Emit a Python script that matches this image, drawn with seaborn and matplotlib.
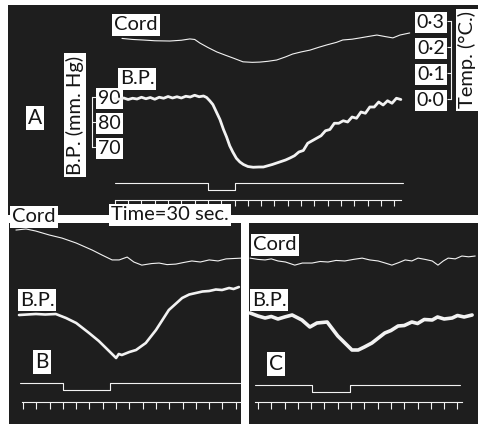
import numpy as np
import matplotlib
matplotlib.use('Agg')
import matplotlib.pyplot as plt
import seaborn as sns

sns.set_style('white')
plt.rcParams['font.family'] = ['Lato', 'DejaVu Sans']

# time in seconds, B.P. in mm Hg, cord temperature in deg C

# record A
a_bp_t = [0, 10, 20, 30, 40, 50, 60, 70, 80, 90, 100, 110, 120, 130, 140, 150, 160, 170, 180, 190, 200,
          207, 214, 221, 229, 237, 245, 252, 259, 266, 274, 282, 290, 300, 312, 325, 335,
          345, 355, 365, 375, 385, 395, 405, 415, 425, 435, 445, 455, 465, 475, 485, 495, 505, 515,
          525, 535, 545, 555, 565, 575, 585, 595, 605, 615, 625, 635, 645]
a_bp = [89.4, 89.1, 89.6, 89.0, 89.5, 89.2, 89.9, 89.3, 89.8, 89.1, 89.9, 89.5, 90.2, 89.6, 90.1, 89.6, 90.3, 90.0, 90.7, 90.1, 90.4,
        89.8, 88.5, 87.0, 84.0, 81.0, 77.0, 74.0, 70.5, 68.0, 65.5, 64.0, 63.0, 62.2, 61.9, 62.0, 62.0,
        62.5, 63.0, 63.6, 64.2, 64.8, 65.6, 66.5, 68.0, 68.6, 71.5, 72.5, 73.5, 74.5, 76.5, 77.0, 79.5, 79.5, 80.5,
        80.0, 82.0, 81.5, 84.0, 83.5, 86.0, 86.0, 88.0, 86.8, 88.5, 87.5, 89.5, 89.0]
a_cord_t = [16, 40, 63, 90, 124, 150, 169, 180, 192, 210, 230, 250, 266, 289, 310, 327, 345,
            365, 385, 401, 420, 440, 460, 478, 500, 514, 535, 553, 570, 591, 610, 627, 643, 665]
a_cord = [0.233, 0.229, 0.227, 0.224, 0.223, 0.226, 0.231, 0.229, 0.215, 0.198, 0.181, 0.168, 0.158, 0.143, 0.141, 0.142, 0.145,
          0.150, 0.162, 0.173, 0.181, 0.188, 0.199, 0.208, 0.218, 0.227, 0.230, 0.235, 0.240, 0.246, 0.240, 0.235, 0.246, 0.254]
a_stim = (210, 271)

# record B
b_bp_t = [-9, 10, 29, 50, 74, 97, 120, 149, 171, 194, 210, 216, 223, 240, 255, 277, 300, 329, 359, 375,
          390, 405, 420, 435, 449, 465, 475, 487]
b_bp = [90.4, 90.6, 90.8, 90.6, 90.8, 89.2, 87.2, 83.2, 80.0, 76.0, 73.2, 74.8, 74.4, 75.6, 76.4, 79.2, 84.4, 92.4, 97.2, 98.6,
        99.2, 99.8, 100.0, 100.6, 100.4, 101.2, 100.8, 101.6]
b_cord_t = [-16, 7, 29, 59, 88, 120, 156, 178, 201, 217, 235, 250, 268, 290, 307, 325, 345, 362, 381, 400,
            420, 440, 458, 494]
b_cord = [0.123, 0.127, 0.119, 0.104, 0.092, 0.073, 0.046, 0.027, 0.008, 0.008, 0.019, 0.000, -0.012, -0.006, -0.004,
          -0.010, -0.008, -0.002, 0.004, 0.000, 0.008, 0.004, 0.012, 0.015]
b_stim = (90, 196)

# record C
c_bp_t = [-18, 0, 16, 30, 45, 60, 77, 99, 117, 133, 156, 180, 212, 226, 240, 257, 270, 286, 300, 316,
          330, 347, 360, 375, 393, 405, 420, 438, 450, 465, 483]
c_bp = [91.2, 90.0, 89.2, 89.8, 88.8, 89.6, 90.4, 88.4, 85.6, 87.2, 87.6, 82.0, 76.4, 76.4, 77.6, 79.2, 81.0, 83.2, 84.2, 86.0,
        86.2, 87.6, 87.0, 88.6, 88.4, 89.6, 88.8, 89.2, 90.2, 89.6, 90.4]
c_cord_t = [-18, 0, 16, 30, 45, 62, 83, 100, 122, 140, 158, 176, 196, 215, 235, 252, 271, 287, 302, 318,
            332, 347, 361, 377, 393, 406, 418, 429, 445, 460, 475, 490]
c_cord = [0.015, 0.010, 0.008, 0.012, 0.004, 0.000, -0.012, -0.004, -0.004, 0.002, 0.000, 0.006, 0.004, 0.010, 0.015,
          0.008, 0.004, -0.004, -0.012, -0.002, 0.008, 0.004, 0.015, 0.010, 0.004, -0.012, 0.004, 0.015, 0.012,
          0.023, 0.020, 0.023]
c_stim = (122, 208)

bp_scale = [70, 80, 90]
temp_scale = [0.0, 0.1, 0.2, 0.3]
temp_labels = ['0·0', '0·1', '0·2', '0·3']

PANEL = '#1e1e1e'
TRACE = '#f2f2f2'
INK = '#151515'
W, H = 478, 424
box = dict(boxstyle='square,pad=0.1', fc='white', ec='none')

fig = plt.figure(figsize=(W / 100, H / 100), dpi=100, facecolor='white')


def panel(x0, y0, x1, y1):
    return fig.add_axes([x0 / W, 1 - y1 / H, (x1 - x0) / W, (y1 - y0) / H])


def record(ax, xlim, bplim, templim, bp_t, bp, cord_t, cord, bp_lw,
           stim, sig_span, sig_hi, sig_lo, time_lvl, time_span, last_tick, tick_len):
    tw = ax.twinx()
    ax.set_facecolor(PANEL)
    sns.lineplot(x=bp_t, y=bp, ax=ax, color=TRACE, lw=bp_lw, estimator=None, sort=False)
    sns.lineplot(x=cord_t, y=cord, ax=tw, color=TRACE, lw=0.8, estimator=None, sort=False)
    # stimulus signal
    sx = [sig_span[0], stim[0], stim[1], sig_span[1]]
    sy = [sig_hi, sig_lo, sig_hi, sig_hi]
    sns.lineplot(x=sx, y=sy, ax=ax, color=TRACE, lw=0.8, drawstyle='steps-post',
                 estimator=None, sort=False)
    ax.set_xlim(*xlim)
    ax.set_ylim(*bplim)
    tw.set_ylim(*templim)
    ax.set_xlabel('')
    ax.set_ylabel('')
    tw.set_ylabel('')
    # time marker = 30 s ticks on the bottom spine
    for s in ['top', 'left', 'right']:
        ax.spines[s].set_visible(False)
    for s in tw.spines.values():
        s.set_visible(False)
    ax.spines['bottom'].set_position(('data', time_lvl))
    ax.spines['bottom'].set_bounds(*time_span)
    ax.spines['bottom'].set_color(TRACE)
    ax.spines['bottom'].set_linewidth(0.8)
    ax.set_xticks(np.arange(0, last_tick + 1, 30))
    ax.tick_params(axis='x', direction='out', length=tick_len, width=0.8, color=TRACE,
                   bottom=True, labelbottom=False)
    ax.tick_params(axis='y', left=False, right=False, labelleft=False, labelright=False)
    tw.tick_params(axis='y', left=False, right=False, labelleft=False, labelright=False)
    return tw


axA = panel(8, 5, 478, 215)
twA = record(axA, (-241, 819), (42.8, 126.8), (-0.446, 0.3615), a_bp_t, a_bp, a_cord_t, a_cord, 2.0,
             a_stim, (0, 650), 55.6, 52.8, 48.8, (0, 645), 630, 4.3)
axB = panel(9, 223, 241, 424)
record(axB, (-31.6, 491.8), (46.8, 127.2), (-0.623, 0.15), b_bp_t, b_bp, b_cord_t, b_cord, 1.9,
       b_stim, (-7, 490), 63.2, 60.4, 55.6, (-2, 490), 480, 5)
axC = panel(249, 223, 478, 424)
record(axC, (-20.3, 496.3), (46.8, 127.2), (-0.623, 0.15), c_bp_t, c_bp, c_cord_t, c_cord, 2.6,
       c_stim, (-7, 456), 62.4, 59.6, 55.6, (-7, 460), 450, 5)

# B.P. scale bracket (record A)
axA.spines['right'].set_visible(True)
axA.spines['right'].set_position(('data', -52))
axA.spines['right'].set_bounds(70, 90)
axA.spines['right'].set_color(TRACE)
axA.spines['right'].set_linewidth(0.8)
axA.yaxis.tick_right()
axA.set_yticks(bp_scale, labels=[str(v) for v in bp_scale])
axA.tick_params(axis='y', right=True, labelright=True, direction='out', length=3, width=0.8,
                color=TRACE, pad=1.5, labelsize=14, labelcolor=INK)
for lbl in axA.get_yticklabels():
    lbl.set_bbox(box)

# temperature scale bracket (record A)
twA.spines['left'].set_visible(True)
twA.spines['left'].set_position(('data', 758))
twA.spines['left'].set_bounds(0, 0.3)
twA.spines['left'].set_color(TRACE)
twA.spines['left'].set_linewidth(0.8)
twA.yaxis.tick_left()
twA.set_yticks(temp_scale, labels=temp_labels)
twA.tick_params(axis='y', left=True, labelleft=True, direction='out', length=3, width=0.8,
                color=TRACE, pad=1.5, labelsize=14, labelcolor=INK)
for lbl in twA.get_yticklabels():
    lbl.set_bbox(box)


def label(x, y, s, size=14.5, rot=0):
    fig.text(x / W, 1 - y / H, s, ha='center', va='center', fontsize=size, color=INK,
             rotation=rot, bbox=box, zorder=5)


label(136, 25, 'Cord')
label(137, 79, 'B.P.')
label(35, 118, 'A', 15)
label(75, 115, 'B.P. (mm. Hg)', 14.5, 90)
label(467, 60, 'Temp. (°C.)', 14.5, 90)
label(170, 215, 'Time=30 sec.')
label(34, 217, 'Cord')
label(37, 300, 'B.P.')
label(42, 362, 'B', 15)
label(275, 245, 'Cord')
label(269, 300, 'B.P.')
label(276, 364, 'C', 15)

fig.savefig('out.png', dpi=100, facecolor='white')
